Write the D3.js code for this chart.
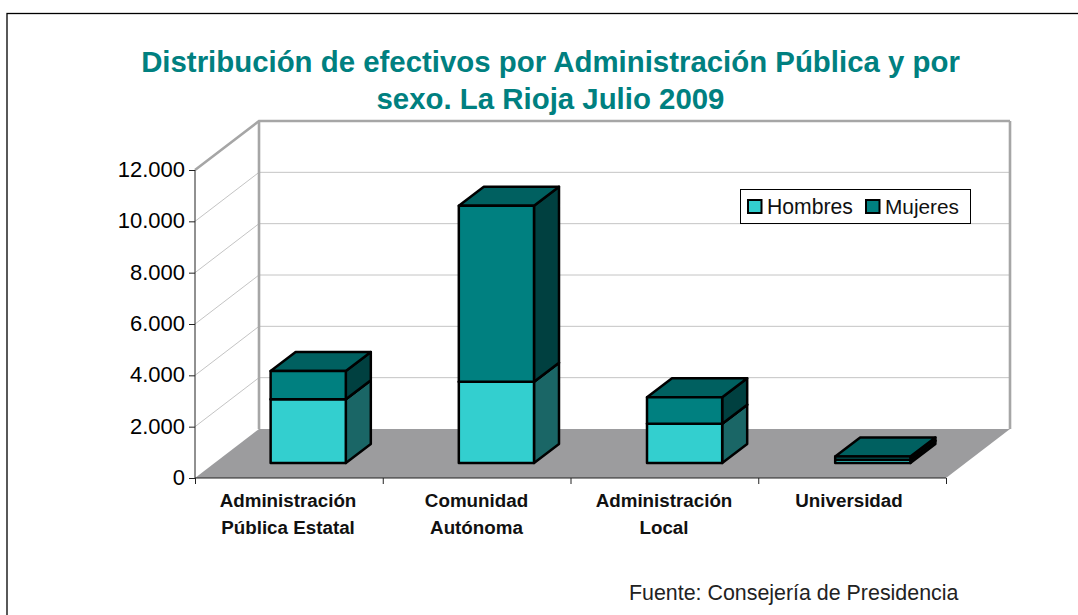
<!DOCTYPE html>
<html><head><meta charset="utf-8">
<script src="https://cdn.jsdelivr.net/npm/d3@7/dist/d3.min.js"></script>
<style>html,body{margin:0;padding:0;background:#fff;overflow:hidden}svg{display:block}text{font-family:"Liberation Sans",Arial,sans-serif}</style>
</head><body><svg id="c" width="1078" height="615"></svg>
<script>
const categories = [["Administración","Pública Estatal"],["Comunidad","Autónoma"],["Administración","Local"],["Universidad"]];
const seriesNames = ["Hombres","Mujeres"];
const hombres = [2480,3170,1530,130];
const mujeres = [1100,6850,1030,125];
const yTicks = [0,2000,4000,6000,8000,10000,12000];
const titleLines = ["Distribución de efectivos por Administración Pública y por","sexo. La Rioja Julio 2009"];
const sourceNote = "Fuente: Consejería de Presidencia";

const frontColors = ["#33CFCF","#008080"];
const topColors = ["#1A6666","#006060"];
const sideColors = ["#1A6666","#004040"];

const svg = d3.select("#c");
const fmt = v => d3.format(",")(v).replace(/,/g,".");
const x0 = 195, x1 = 946, yBase = 478, yTop = 170;
const DX = 64, DY = 49;          // depth of floor
const fdx = 20, fdy = 15;        // bar front offset
const bdx = 25, bdy = 19;        // bar depth
const y = d3.scaleLinear().domain([0,12000]).range([yBase,yTop]);
const keys = categories.map((c,i)=>i);
const xBand = d3.scaleBand().domain(keys).range([x0+fdx,x1+fdx]).paddingInner(0.6005).paddingOuter(0.2956);
const xTickScale = d3.scalePoint().domain(d3.range(categories.length+1)).range([x0,x1]);
const line = d3.line();
const poly = pts => line(pts)+"Z";

svg.append("rect").attr("x",7).attr("y",13.5).attr("width",1100).attr("height",640).attr("fill","#fff").attr("stroke","#000").attr("stroke-width",1.3);

// title
svg.append("g").selectAll("text").data(titleLines).join("text")
  .attr("x",550.5).attr("y",(d,i)=>71.5+i*37.5).attr("text-anchor","middle")
  .attr("font-size",29.4).attr("font-weight","bold").attr("fill","#008080").text(d=>d);

// floor
svg.append("path").attr("fill","#9C9C9E")
  .attr("d",poly([[x0,yBase],[x0+DX,yBase-DY],[x1+DX,yBase-DY],[x1,yBase]]));

// gridlines
yTicks.slice(1,-1).forEach(v=>{
  const yy=y(v);
  svg.append("path").attr("fill","none").attr("stroke","#C4C4C4").attr("stroke-width",1)
    .attr("d",line([[x0,yy],[x0+DX,yy-DY],[x1+DX,yy-DY]]));
});

// walls
svg.append("path").attr("fill","none").attr("stroke","#A6A6A6").attr("stroke-width",2.6)
  .attr("d",line([[x0,y(12000)],[x0+DX,y(12000)-DY],[x1+DX,y(12000)-DY]]));
svg.append("path").attr("fill","none").attr("stroke","#A6A6A6").attr("stroke-width",2.6)
  .attr("d",line([[x0+DX,y(12000)-DY],[x0+DX,yBase-DY]]));
svg.append("path").attr("fill","none").attr("stroke","#A6A6A6").attr("stroke-width",2.6)
  .attr("d",line([[x1+DX,y(12000)-DY],[x1+DX,yBase-DY]]));

// bars
function bar(xl,v0,v1,si){
  const xr = xl + xBand.bandwidth();
  const yb = y(v0)-fdy, yt = y(v1)-fdy;
  const g = svg.append("g").attr("stroke","#000").attr("stroke-width",2.5).attr("stroke-linejoin","round");
  g.append("path").attr("fill",sideColors[si]).attr("d",poly([[xr,yb],[xr+bdx,yb-bdy],[xr+bdx,yt-bdy],[xr,yt]]));
  g.append("path").attr("fill",topColors[si]).attr("d",poly([[xl,yt],[xl+bdx,yt-bdy],[xr+bdx,yt-bdy],[xr,yt]]));
  g.append("path").attr("fill",frontColors[si]).attr("d",poly([[xl,yb],[xr,yb],[xr,yt],[xl,yt]]));
}
keys.forEach(i=>{
  const xl=xBand(i);
  bar(xl,0,hombres[i],0);
  bar(xl,hombres[i],hombres[i]+mujeres[i],1);
});

// y axis
const yAxis = d3.axisLeft(y).tickValues(yTicks).tickFormat(fmt).tickSize(6).tickPadding(4);
const gy = svg.append("g").attr("transform",`translate(${x0},0)`).call(yAxis);
gy.selectAll("text").attr("font-size",22).attr("fill","#000").attr("dy","0.3em").attr("font-family",'"Liberation Sans",Arial,sans-serif');
gy.select(".domain").attr("stroke","#222").attr("d",`M0,${yTop}V${yBase}`);
gy.selectAll("line").attr("stroke","#222");

// x axis
const xAxis = d3.axisBottom(xTickScale).tickSize(6).tickFormat("");
const gx = svg.append("g").attr("transform",`translate(0,${yBase})`).call(xAxis);
gx.select(".domain").attr("stroke","#222").attr("d",`M${x0},0H${x1}`);
gx.selectAll("line").attr("stroke","#222");

// category labels
const labelX = [288,476.5,664,849];
categories.forEach((c,i)=>{
  svg.append("g").selectAll("text").data(c).join("text")
    .attr("x",labelX[i]).attr("y",(d,j)=>507+j*26.5).attr("text-anchor","middle")
    .attr("font-size",18.8).attr("font-weight","bold").attr("fill","#111").text(d=>d);
});

// legend
const lg = svg.append("g");
lg.append("rect").attr("x",740.5).attr("y",189.5).attr("width",230).attr("height",34).attr("fill","#fff").attr("stroke","#000");
const lgX=[748,866], lgTx=[767,885];
seriesNames.forEach((n,i)=>{
  lg.append("rect").attr("x",lgX[i]).attr("y",200).attr("width",13.5).attr("height",13).attr("fill",frontColors[i]).attr("stroke","#000").attr("stroke-width",2);
  lg.append("text").attr("x",lgTx[i]).attr("y",214).attr("font-size",i?20.8:21.2).attr("fill","#111").text(n);
});

svg.append("text").attr("x",629).attr("y",600).attr("font-size",21.4).attr("fill","#222").text(sourceNote);
</script></body></html>
